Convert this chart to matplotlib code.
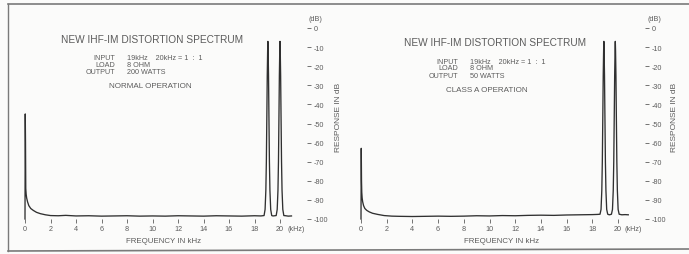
import matplotlib
matplotlib.use("Agg")
import matplotlib.pyplot as plt
from matplotlib.lines import Line2D

plt.rcParams['font.family'] = ['Liberation Sans', 'DejaVu Sans']

# ---------------- data ----------------
freq_ticks = [0, 2, 4, 6, 8, 10, 12, 14, 16, 18, 20]
db_ticks = [0, -10, -20, -30, -40, -50, -60, -70, -80, -90, -100]
db_tick_labels = ["0", "-10", "-20", "-30", "-40", "-50", "-60", "-70", "-80", "-90", "-100"]

# Left panel: normal operation, 200 W
left_freq = [0.00, 0.02, 0.04, 0.06, 0.09, 0.13, 0.20, 0.30, 0.45, 0.65, 0.90, 1.20,
             1.60, 2.00, 2.60, 3.20, 4.00, 5.00, 6.00, 7.00, 8.00, 9.00, 10.0, 11.0,
             12.0, 13.0, 14.0, 15.0, 16.0, 17.0, 18.0, 18.5,
             18.75, 18.83, 18.89, 18.93, 18.97, 19.00, 19.03, 19.05, 19.07, 19.10,
             19.13, 19.17, 19.21, 19.27, 19.35,
             19.45, 19.58,
             19.70, 19.78, 19.84, 19.88, 19.92, 19.95, 19.98, 20.00, 20.02, 20.05,
             20.08, 20.12, 20.16, 20.22, 20.30,
             20.45, 20.65, 20.90]
left_db = [-100, -45, -60, -84, -87, -89, -91, -93, -94.5, -95.5, -96.5, -97.2,
           -97.8, -98.2, -98.3, -98.1, -98.4, -98.3, -98.5, -98.4, -98.3, -98.5, -98.4, -98.5,
           -98.3, -98.4, -98.5, -98.3, -98.4, -98.5, -98.3, -98.4,
           -98.2, -95, -85, -70, -45, -25, -12, -7, -12, -25,
           -45, -70, -85, -95, -98.2,
           -98.4, -98.3,
           -98.2, -95, -85, -70, -45, -25, -12, -7, -12, -25,
           -45, -70, -85, -95, -98.2,
           -98.3, -98.5, -98.4]

# Right panel: class A operation, 50 W
right_freq = [0.00, 0.02, 0.04, 0.06, 0.09, 0.13, 0.20, 0.30, 0.45, 0.65, 0.90, 1.30,
              1.80, 2.40, 3.00, 4.00, 5.00, 6.00, 7.00, 8.00, 9.00, 10.0, 11.0, 12.0,
              13.0, 14.0, 15.0, 16.0, 17.0, 18.0, 18.4,
              18.60, 18.68, 18.74, 18.78, 18.82, 18.85, 18.88, 18.90, 18.92, 18.95,
              18.98, 19.02, 19.06, 19.12, 19.20,
              19.32, 19.45,
              19.49, 19.57, 19.63, 19.67, 19.71, 19.74, 19.77, 19.79, 19.81, 19.84,
              19.87, 19.91, 19.95, 20.01, 20.09,
              20.3, 20.55, 20.80]
right_db = [-100, -63, -80, -86, -89, -91, -93, -94.5, -95.5, -96.3, -97.0, -97.6,
            -98.2, -98.5, -98.6, -98.7, -98.6, -98.5, -98.6, -98.5, -98.3, -98.4, -98.2, -98.3,
            -98.1, -98.0, -98.1, -97.9, -97.8, -97.7, -97.6,
            -97.5, -95, -85, -70, -45, -25, -12, -7, -12, -25,
            -45, -70, -85, -95, -97.5,
            -97.8, -97.6,
            -97.5, -95, -85, -70, -45, -25, -12, -7, -12, -25,
            -45, -70, -85, -95, -97.5,
            -97.8, -97.7, -97.8]

titles = ["NEW IHF-IM DISTORTION SPECTRUM", "NEW IHF-IM DISTORTION SPECTRUM"]
info_labels = ["INPUT", "LOAD", "OUTPUT"]
left_info = ["19kHz    20kHz = 1  :  1", "8 OHM", "200 WATTS"]
right_info = ["19kHz    20kHz = 1  :  1", "8 OHM", "50 WATTS"]
modes = ["NORMAL OPERATION", "CLASS A OPERATION"]

# ---------------- layout ----------------
W, H = 689, 255
fig = plt.figure(figsize=(W / 100, H / 100), dpi=100)
fig.patch.set_facecolor("#fbfbfa")

TXT = "#5c5c5c"
LINE = "#303030"


def px_rect(x0, x1, y_top, y_bot):
    return [x0 / W, 1 - y_bot / H, (x1 - x0) / W, (y_bot - y_top) / H]


def ftext(x, y, s, **kw):
    kw.setdefault("color", TXT)
    fig.text(x / W, 1 - y / H, s, **kw)


panels = [
    dict(x0=25, x20=280, top=29, bot=220, freq=left_freq, db=left_db, info=left_info,
         title_x=152, title_y=40, lab_x=115, val_x=127, info_y=[59, 66, 73],
         mode_x=150, mode_y=86, khz_x=296, flab_x=164, resp_x=338),
    dict(x0=361, x20=618, top=29, bot=220, freq=right_freq, db=right_db, info=right_info,
         title_x=495, title_y=43, lab_x=458, val_x=470, info_y=[62, 69, 76],
         mode_x=487, mode_y=90, khz_x=633, flab_x=502, resp_x=675),
]

for i, p in enumerate(panels):
    ppk = (p["x20"] - p["x0"]) / 20.0
    xmin, xmax = -0.5, 22.1
    ax = fig.add_axes(px_rect(p["x0"] + xmin * ppk, p["x0"] + xmax * ppk, p["top"], p["bot"]))
    ax.set_facecolor("none")
    ax.plot(p["freq"], p["db"], color=LINE, lw=0.95, solid_joinstyle="round", clip_on=False)
    ax.set_xlim(xmin, xmax)
    ax.set_ylim(-100, 0)
    for s in ax.spines.values():
        s.set_visible(False)
    ax.set_xticks(freq_ticks)
    ax.set_xticklabels([str(t) for t in freq_ticks])
    ax.set_yticks(db_ticks)
    ax.set_yticklabels(db_tick_labels)
    ax.tick_params(axis="x", direction="out", length=3, width=0.6, pad=1.5,
                   labelsize=5.2, colors=TXT)
    ax.tick_params(axis="y", left=False, labelleft=False, right=True, labelright=True,
                   direction="out", length=3, width=0.6, pad=2, labelsize=5.2, colors=TXT)

    ftext(p["title_x"], p["title_y"], titles[i], fontsize=7.3, ha="center", va="center")
    for lab, val, y in zip(info_labels, p["info"], p["info_y"]):
        ftext(p["lab_x"], y, lab, fontsize=5.2, ha="right", va="center")
        ftext(p["val_x"], y, val, fontsize=5.2, ha="left", va="center")
    ftext(p["mode_x"], p["mode_y"], modes[i], fontsize=5.8, ha="center", va="center")
    ftext(p["khz_x"], 230, "(kHz)", fontsize=5.2, ha="center", va="center")
    ftext(p["flab_x"], 242, "FREQUENCY IN kHz", fontsize=5.7, ha="center", va="center")
    ftext(p["x0"] + 22.1 * ppk + 9, 20, "(dB)", fontsize=5.2, ha="center", va="center")
    ftext(p["resp_x"], 117, "RESPONSE IN dB", fontsize=6, ha="center", va="center",
          rotation=90)

# frame lines of the scanned page
FR = "#7a7a7a"
fig.add_artist(Line2D([8 / W, 1], [1 - 5 / H, 1 - 5 / H], color=FR, lw=1.2))
fig.add_artist(Line2D([8 / W, 1], [1 - 252 / H, 1 - 250 / H], color=FR, lw=1.2))
fig.add_artist(Line2D([8 / W, 8 / W], [1 - 5 / H, 1 - 252 / H], color=FR, lw=1.0))

fig.savefig("out.png", dpi=100, facecolor=fig.get_facecolor())
